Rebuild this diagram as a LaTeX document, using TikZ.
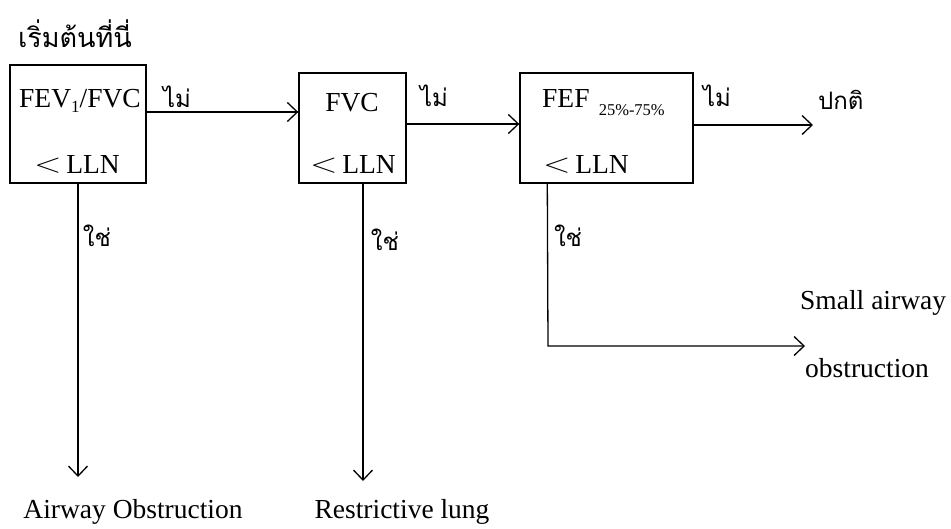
\documentclass[tikz,border=0pt]{standalone}
\usepackage{fontspec}
\usepackage{graphicx}
\setmainfont{Liberation Serif}
\newfontfamily\thaifont[Script=Thai]{Loma}
\usetikzlibrary{positioning, arrows.meta}
\newcommand{\bigless}{\raisebox{1pt}{\scalebox{1.45}[1.1]{$<$}}\,}

\begin{document}
\begin{tikzpicture}[
    x=1pt, y=-1pt,
    box/.style={
        draw,
        line width=1.4pt,
        align=center,
        inner sep=0pt
    },
    lbl/.style={font=\fontsize{27.5}{32}\selectfont, inner sep=0pt},
    thai/.style={font=\thaifont\fontsize{24}{28}\selectfont, inner sep=0pt},
    arrow/.style={-{Straight Barb[length=10pt,width=19pt,line width=1.3pt]}, line width=1.3pt}
]
\useasboundingbox (0,0) rectangle (951,528);

\node[thai, font=\thaifont\fontsize{27}{32}\selectfont] (start) at (75,34) {เริ่มต้นที่นี่};

\node[box, minimum width=136pt, minimum height=118pt] (fev) at (78,124) {};
\node[lbl] (fevtxt) at (80,101) {FEV{\fontsize{17}{20}\selectfont\raisebox{-5pt}{1}}/FVC};
\node[lbl] (fevlln) at (77,164) {\bigless LLN};

\node[box, minimum width=107pt, minimum height=110pt] (fvc) at (352.5,128) {};
\node[lbl] (fvctxt) at (352,103) {FVC};
\node[lbl] (fvclln) at (353,164) {\bigless LLN};

\node[box, minimum width=173pt, minimum height=110pt] (fef) at (606.5,128) {};
\node[lbl, anchor=west] (feftxt) at (542,103) {FEF\,\,{\fontsize{16.5}{19}\selectfont\raisebox{-8pt}{25\%-75\%}}};
\node[lbl, anchor=west] (feflln) at (543,164) {\bigless LLN};

\node[thai, anchor=west] (normal) at (818,100) {ปกติ};
\node[lbl, anchor=west] (small1) at (800,303) {Small airway};
\node[lbl, anchor=west] (small2) at (805,368) {obstruction};
\node[lbl] (airway) at (133,512) {Airway Obstruction};
\node[lbl] (restrict) at (402,512) {Restrictive lung};

\coordinate (e1) at (78,477);
\coordinate (e2) at (363,481);
\coordinate (e3) at (548,346);
\coordinate (e4) at (805,346);
\coordinate (e5) at (813,125);

% no branches
\draw[arrow] ([yshift=12pt]fev.east) coordinate (n1) -- (n1 -| fvc.west);
\draw[arrow] ([yshift=4pt]fvc.east) coordinate (n2) -- (n2 -| fef.west);
\draw[arrow] ([yshift=3pt]fef.east) -- (e5);
\node[thai] (no1) at (177,97) {ไม่};
\node[thai] (no2) at (434,96) {ไม่};
\node[thai] (no3) at (717,96) {ไม่};

% yes branches
\draw[arrow] (fev.south) -- (e1);
\draw[arrow] ([xshift=10.5pt]fvc.south) -- (e2);
\draw[arrow] ([xshift=28pt]fef.south west) -- (e3) -- (e4);
\node[thai] (yes1) at (97,236) {ใช่};
\node[thai] (yes2) at (385,240) {ใช่};
\node[thai] (yes3) at (568,236) {ใช่};

\end{tikzpicture}
\end{document}
